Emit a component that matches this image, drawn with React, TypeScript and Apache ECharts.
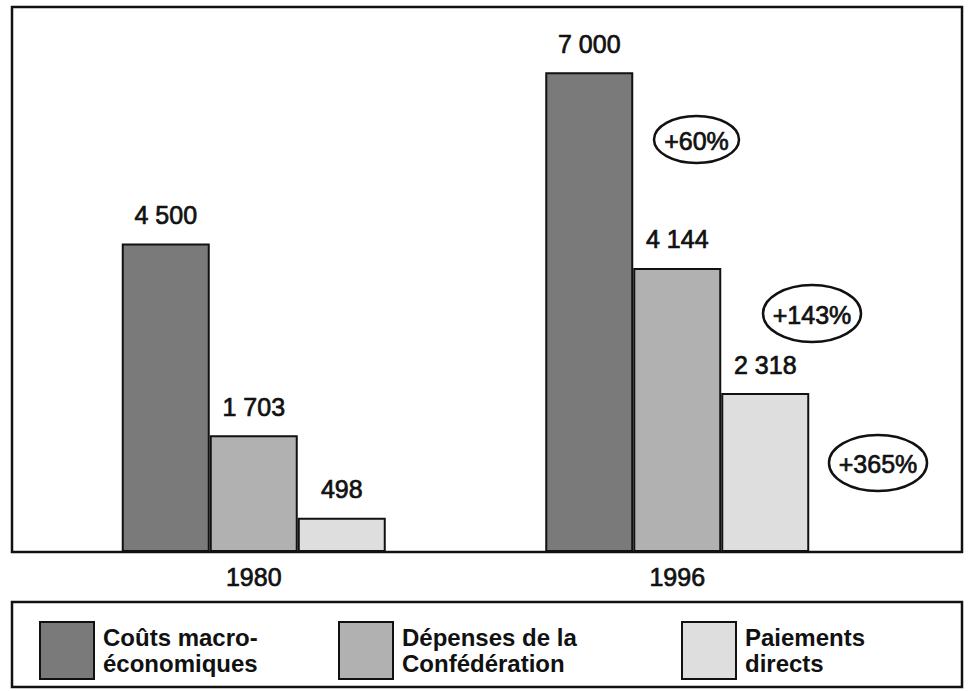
import React, { useEffect, useRef } from "react";
import * as echarts from "echarts";

const categories = ["1980", "1996"];
const seriesNames = [
  "Coûts macro-économiques",
  "Dépenses de la Confédération",
  "Paiements directs",
];
const legendLabels = [
  "Coûts macro-\néconomiques",
  "Dépenses de la\nConfédération",
  "Paiements\ndirects",
];
const coutsMacro = [4500, 7000];
const depensesConf = [1703, 4144];
const paiementsDirects = [498, 2318];
const growthLabels = ["+60%", "+143%", "+365%"];

const colors = ["#7a7a7a", "#b1b1b1", "#dedede"];
const FONT = "'Liberation Sans', Arial, Helvetica, sans-serif";
const INK = "#111111";

const fmt = (v: number) =>
  String(v).replace(/\B(?=(\d{3})+(?!\d))/g, " ");

export default function App() {
  const ref = useRef<HTMLDivElement>(null);
  useEffect(() => {
    if (!ref.current) return;
    const chart = echarts.init(ref.current, undefined, { renderer: "svg" });
    const dataSets = [coutsMacro, depensesConf, paiementsDirects];
    const legendLefts = [39, 338, 681];
    const ellipses = [
      { cx: 696.5, cy: 139.5, rx: 42.5, ry: 23.5 },
      { cx: 812, cy: 313.5, rx: 49, ry: 28.5 },
      { cx: 878, cy: 463, rx: 49, ry: 28 },
    ];
    const graphics: any[] = [
      {
        type: "rect",
        z: 10,
        shape: { x: 12, y: 7, width: 950, height: 545 },
        style: { fill: "none", stroke: INK, lineWidth: 2.5 },
        silent: true,
      },
      {
        type: "rect",
        z: 10,
        shape: { x: 12, y: 602, width: 950, height: 85 },
        style: { fill: "none", stroke: INK, lineWidth: 2.5 },
        silent: true,
      },
    ];
    ellipses.forEach((e, i) => {
      graphics.push({
        type: "ellipse",
        z: 10,
        shape: { cx: e.cx, cy: e.cy, rx: e.rx, ry: e.ry },
        style: { fill: "none", stroke: INK, lineWidth: 2.5 },
        silent: true,
      });
      graphics.push({
        type: "text",
        z: 11,
        x: e.cx,
        y: e.cy + 1,
        style: {
          text: growthLabels[i],
          fill: INK,
          stroke: INK,
          lineWidth: 0.7,
          font: `25px ${FONT}`,
          textAlign: "center",
          textVerticalAlign: "middle",
        },
        silent: true,
      });
    });

    chart.setOption({
      animation: false,
      backgroundColor: "#ffffff",
      grid: { left: 42, width: 847, top: 7, bottom: 139, containLabel: false },
      xAxis: {
        type: "category",
        data: categories,
        axisLine: { show: false },
        axisTick: { show: false },
        axisLabel: {
          margin: 12,
          fontSize: 25,
          fontFamily: FONT,
          color: INK,
          textBorderColor: INK,
          textBorderWidth: 0.7,
        },
        splitLine: { show: false },
      },
      yAxis: {
        type: "value",
        min: 0,
        max: 7950,
        show: false,
        splitLine: { show: false },
      },
      legend: seriesNames.map((name, i) => ({
        data: [name],
        left: legendLefts[i],
        top: 621,
        padding: 0,
        icon: "rect",
        itemWidth: 54,
        itemHeight: 57,
        selectedMode: false,
        itemStyle: { borderColor: INK, borderWidth: 2 },
        formatter: () => legendLabels[i],
        textStyle: {
          fontSize: 24,
          fontWeight: "bold",
          fontFamily: FONT,
          color: INK,
          lineHeight: 26,
          padding: [0, 0, 0, 4],
        },
      })),
      series: seriesNames.map((name, i) => ({
        type: "bar",
        name,
        data: dataSets[i],
        barWidth: 88,
        barGap: "0%",
        itemStyle: { color: colors[i], borderColor: INK, borderWidth: 2 },
        label: {
          show: true,
          position: "top",
          distance: 16,
          fontSize: 25,
          fontFamily: FONT,
          color: INK,
          textBorderColor: INK,
          textBorderWidth: 0.7,
          formatter: (p: any) => fmt(p.value),
        },
      })),
      graphic: graphics,
    });
    return () => chart.dispose();
  }, []);
  return (
    <div
      ref={ref}
      style={{ position: "fixed", left: 0, top: 0, width: 978, height: 691 }}
    />
  );
}
